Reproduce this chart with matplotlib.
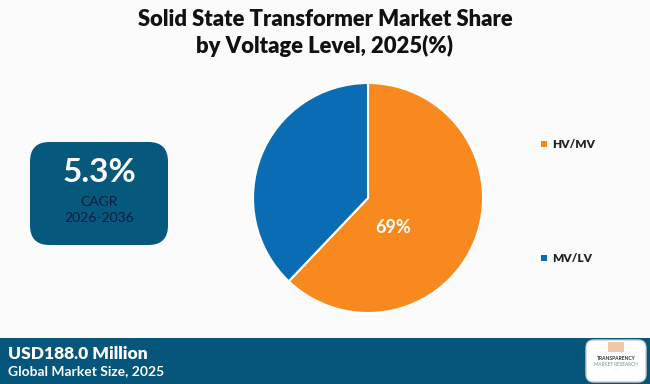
import matplotlib
matplotlib.use("Agg")
import matplotlib.pyplot as plt
from matplotlib.patches import FancyBboxPatch, Rectangle

plt.rcParams['font.family'] = ['Lato', 'DejaVu Sans']

categories = ["HV/MV", "MV/LV"]
shares = [62.1, 37.9]
share_labels = ["69%", ""]
colors = ["#F7891F", "#0A6DB3"]
title_lines = ["Solid State Transformer Market Share", "by Voltage Level, 2025(%)"]
cagr_value = "5.3%"
cagr_period = "2026-2036"
market_value = "USD188.0 Million"
market_caption = "Global Market Size, 2025"

W, H = 650, 384
fig = plt.figure(figsize=(W / 100, H / 100), dpi=100)
fig.patch.set_facecolor("#FBFBFB")

def fx(x):
    return x / W

def fy(y):
    return 1 - y / H

# Title
fig.text(0.5, fy(20), title_lines[0], ha="center", va="center", fontsize=15.8,
         fontweight="heavy", color="#111111")
fig.text(0.5, fy(46), title_lines[1], ha="center", va="center", fontsize=15.8,
         fontweight="heavy", color="#111111")

# Pie
cx, cy, r = 368, 198, 115
ax = fig.add_axes([fx(cx - r), fy(cy + r), 2 * r / W, 2 * r / H])
wedges, _ = ax.pie(shares, colors=colors, startangle=90, counterclock=False,
                   wedgeprops=dict(edgecolor="white", linewidth=1.5))
ax.set_xlim(-1, 1)
ax.set_ylim(-1, 1)
ax.set_aspect("auto")
ax.axis("off")
ax.text(0.22, -0.26, share_labels[0], ha="center", va="center", fontsize=13,
        fontweight="bold", color="white")

# Legend
leg_y = [144, 258]
for name, col, yy in zip(categories, colors, leg_y):
    fig.patches.append(Rectangle((fx(541), fy(yy + 3)), 6 / W, 6 / H,
                                 transform=fig.transFigure, facecolor=col,
                                 edgecolor="none"))
    fig.text(fx(552), fy(yy), name, ha="left", va="center", fontsize=8.5,
             fontweight="heavy", color="#222222")

# CAGR box
box = FancyBboxPatch((fx(30), fy(245)), fx(168) - fx(30), fy(142) - fy(245),
                     boxstyle="round,pad=0,rounding_size=0.03",
                     transform=fig.transFigure, facecolor="#07587D",
                     edgecolor="none", mutation_aspect=1.7)
fig.patches.append(box)
fig.text(fx(99), fy(173), cagr_value, ha="center", va="center", fontsize=24,
         fontweight="bold", color="white")
fig.text(fx(99), fy(202), "CAGR", ha="center", va="center", fontsize=10,
         color="#0B1E3A")
fig.text(fx(99), fy(218), cagr_period, ha="center", va="center", fontsize=10,
         color="#0B1E3A")

# Bottom banner
fig.patches.append(Rectangle((0, 0), 1, fy(338), transform=fig.transFigure,
                             facecolor="#05567A", edgecolor="none"))
fig.text(fx(8), fy(354), market_value, ha="left", va="center", fontsize=12.5,
         fontweight="heavy", color="white")
fig.text(fx(8), fy(371), market_caption, ha="left", va="center", fontsize=10,
         fontweight="bold", color="white")

# Logo
logo = FancyBboxPatch((fx(586), fy(382)), fx(646) - fx(586), fy(340) - fy(382),
                      boxstyle="round,pad=0,rounding_size=0.012",
                      transform=fig.transFigure, facecolor="white",
                      edgecolor="#cccccc", mutation_aspect=1.7)
fig.patches.append(logo)
fig.patches.append(Rectangle((fx(608), fy(352)), 16 / W, 10 / H,
                             transform=fig.transFigure, facecolor="#E8A070",
                             edgecolor="none", alpha=0.6))
fig.text(fx(616), fy(358), "TRANSPARENCY", ha="center", va="center", fontsize=3.6,
         fontweight="bold", color="#333333")
fig.text(fx(616), fy(364), "MARKET RESEARCH", ha="center", va="center", fontsize=3.4,
         color="#6a9a7a")
fig.text(fx(616), fy(369), "...", ha="center", va="center", fontsize=3,
         color="#999999")

fig.savefig("out.png", dpi=100, facecolor=fig.get_facecolor())
